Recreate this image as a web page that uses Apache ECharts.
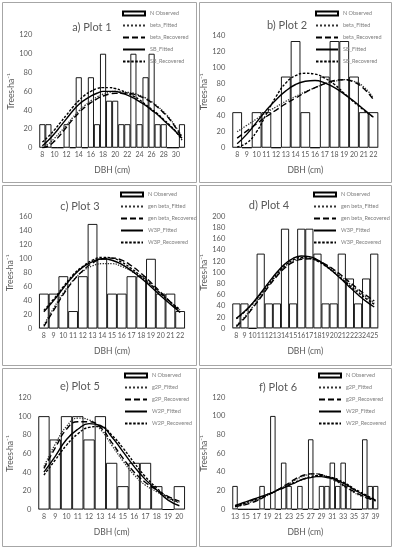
<!DOCTYPE html>
<html><head><meta charset="utf-8">
<script src="https://cdn.jsdelivr.net/npm/echarts@6/dist/echarts.min.js"></script>
<style>html,body{margin:0;padding:0;background:#fff}#c{width:393px;height:550px}</style>
</head><body><div id="c"></div>
<script>
// ---------- DATA ----------
const cats1 = ['8','9','10','11','12','13','14','15','16','17','18','19','20','21','22','23','24','25','26','27','28','29','30','31'];
const obs1 = [25,25,0,0,25,0,75,0,75,25,100,50,50,25,25,100,25,75,100,25,25,0,0,25];
const betaFit1 = [0,4,10,17,24,32,39,45,50,54,57,59,60,60,59,58,56,53,49,44,38,31,22,12];
const betaRec1 = [0,2,7,14,22,30,37,43,48,52,55,57,58,58,58,57,55,52,48,43,37,30,21,11];
const sbFit1 = [2,8,15,23,31,39,46,51,55,58,60,60,60,58,56,53,49,45,40,35,29,23,17,10];
const sbRec1 = [6,12,19,27,35,43,50,56,60,63,64,64,63,61,58,55,51,46,41,36,30,24,17,8];

const cats2 = ['8','9','10','11','12','13','14','15','16','17','18','19','20','21','22'];
const obs2 = [44.4,0,44.4,44.4,0,88.9,133.3,44.4,0,88.9,133.3,133.3,88.9,44.4,44.4];
const betaFit2 = [20,28,36,44,51,58,64,70,75,80,83,85,83,76,62];
const betaRec2 = [12,21,30,39,47,55,62,69,75,80,84,85,82,74,60];
const sbFit2 = [5,17,32,47,60,71,79,83,84,81,75,67,58,48,38];
const sbRec2 = [1,6,20,42,64,81,90,93,92,87,79,68,57,47,38];

const cats3 = ['8','9','10','11','12','13','14','15','16','17','18','19','20','21','22'];
const obs3 = [50,50,75,25,75,150,100,50,50,75,75,100,50,50,25];
const gbFit3 = [5,29,51,69,82,90,93,93,89,82,73,62,50,38,26];
const gbRec3 = [3,26,49,68,83,94,100,101,98,90,79,66,52,38,24];
const w3Fit3 = [24,40,58,75,88,96,100,98,92,83,72,60,47,35,23];
const w3Rec3 = [26,42,60,77,89,98,102,101,95,86,75,63,50,38,27];

const cats4 = ['8','9','10','11','12','13','14','15','16','17','18','19','20','21','22','23','24','25'];
const obs4 = [44.4,44.4,0,133.3,44.4,44.4,177.8,44.4,177.8,177.8,133.3,44.4,44.4,133.3,88.9,44.4,88.9,133.3];
const gbFit4 = [5,20,38,57,77,95,110,120,125,125,121,113,103,91,79,67,56,46];
const gbRec4 = [3,18,36,55,75,93,108,118,123,124,121,114,105,94,82,70,59,49];
const w3Fit4 = [18,30,45,63,82,100,115,125,129,128,122,112,100,87,73,60,48,38];
const w3Rec4 = [17,29,44,61,79,97,112,122,126,125,120,111,100,88,76,64,53,43];

const cats5 = ['8','9','10','11','12','13','14','15','16','17','18','19','20'];
const obs5 = [100,75,100,100,75,100,50,25,50,50,25,0,25];
const g2Fit5 = [46,70,89,98,96,86,69,52,37,26,19,12,7];
const g2Rec5 = [44,66,86,94,94,88,72,55,40,29,21,14,9];
const w2Fit5 = [40,57,75,86,92,90,78,62,46,32,21,10,4];
const w2Rec5 = [37,53,69,81,88,89,80,66,50,35,23,13,8];

const cats6 = ['13','14','15','16','17','18','19','20','21','22','23','24','25','26','27','28','29','30','31','32','33','34','35','36','37','38','39'];
const obs6 = [25,0,0,0,0,25,0,100,0,50,25,0,25,0,75,0,25,25,50,25,50,25,0,0,75,25,25];
const g2Fit6 = [3,4,6,8,10,12,15,18,21,24,27,31,34,36,38,38,37,35,32,29,25,22,18,15,13,11,9];
const g2Rec6 = [3,4,5,7,9,12,15,18,21,25,28,32,35,37,38,38,37,35,33,30,26,22,19,16,13,11,9];
const w2Fit6 = [4,6,8,10,12,14,16,18,21,23,26,28,31,33,34,35,35,34,33,31,28,25,21,18,15,12,10];
const w2Rec6 = [4,5,7,9,11,13,16,18,21,23,26,29,31,33,35,36,36,35,34,32,29,26,22,19,16,13,11];

const titles = ['a) Plot 1','b) Plot 2','c) Plot 3','d) Plot 4','e) Plot 5','f) Plot 6'];
const obsName = 'N Observed';
const namesAB = ['beta_Fitted','beta_Recovered','SB_Fitted','SB_Recovered'];
const namesCD = ['gen beta_Fitted','gen beta_Recovered','W3P_Fitted','W3P_Recovered'];
const namesEF = ['g2P_Fitted','g2P_Recovered','W2P_Fitted','W2P_Recovered'];
const yMaxes = [120,140,160,200,120,120];
const xName = 'DBH (cm)';
const yName = 'Trees·ha⁻¹';

// ---------- LAYOUT ----------
const FONT = 'Lato, "Liberation Sans", Arial, sans-serif';
const TXT = '#595959';
const panels = [
  {box:[2,2,194,180], grid:[39.3,35,145.7,112.7], cats:cats1, obs:obs1, lines:[betaFit1,betaRec1,sbFit1,sbRec1], names:namesAB, interval:1, yGap:23, tx:87, ty:17, lx:122, ly:10},
  {box:[199,2,192,180], grid:[232.3,35.7,146,112], cats:cats2, obs:obs2, lines:[betaFit2,betaRec2,sbFit2,sbRec2], names:namesAB, interval:0, yGap:19, tx:282, ty:15, lx:315, ly:10},
  {box:[2,185,194,180], grid:[39,217,146,111.5], cats:cats3, obs:obs3, lines:[gbFit3,gbRec3,w3Fit3,w3Rec3], names:namesCD, interval:0, yGap:22, tx:75, ty:196, lx:120, ly:191},
  {box:[199,185,192,180], grid:[232.3,216.3,146,112], cats:cats4, obs:obs4, lines:[gbFit4,gbRec4,w3Fit4,w3Rec4], names:namesCD, interval:0, yGap:19, tx:264, ty:195, lx:313, ly:191},
  {box:[2,368,194,178], grid:[38.3,397.5,146.7,112], cats:cats5, obs:obs5, lines:[g2Fit5,g2Rec5,w2Fit5,w2Rec5], names:namesEF, interval:0, yGap:21, tx:75, ty:376, lx:124, ly:372},
  {box:[199,368,192,178], grid:[232.3,397.3,146,112], cats:cats6, obs:obs6, lines:[g2Fit6,g2Rec6,w2Fit6,w2Rec6], names:namesEF, interval:1, yGap:19, tx:273, ty:377, lx:318, ly:372}
];
const lineStyles = [
  {type:'dotted', width:1.3, color:'#333'},
  {type:[6,3], width:1.4, color:'#000'},
  {type:'solid', width:1.4, color:'#000'},
  {type:[2.5,1.6], width:1.4, color:'#000'}
];

const grid=[], xAxis=[], yAxis=[], series=[], title=[], legend=[], graphic=[];
panels.forEach((p,i)=>{
  graphic.push({type:'rect', z:-10, shape:{x:p.box[0]+0.5,y:p.box[1]+0.5,width:p.box[2],height:p.box[3]}, style:{fill:'#fff', stroke:'#a6a6a6', lineWidth:1}});
  grid.push({left:p.grid[0], top:p.grid[1], width:p.grid[2], height:p.grid[3], containLabel:false});
  xAxis.push({type:'category', gridIndex:i, data:p.cats, boundaryGap:true,
    axisTick:{show:false}, axisLine:{show:true, lineStyle:{color:'#d9d9d9'}},
    axisLabel:{interval:p.interval, color:TXT, fontSize:7, fontFamily:FONT, margin:4},
    name:xName, nameLocation:'middle', nameGap:18, nameTextStyle:{color:TXT, fontSize:8.5, fontFamily:FONT}});
  yAxis.push({type:'value', gridIndex:i, min:0, max:yMaxes[i], interval:20,
    splitLine:{show:false}, axisLine:{show:false}, axisTick:{show:false},
    axisLabel:{color:TXT, fontSize:7.5, fontFamily:FONT, margin:7},
    name:yName, nameLocation:'middle', nameGap:p.yGap, nameTextStyle:{color:TXT, fontSize:8.5, fontFamily:FONT}});
  series.push({type:'bar', name:obsName, xAxisIndex:i, yAxisIndex:i, data:p.obs, barCategoryGap:'0%',
    itemStyle:{color:'#fff', borderColor:'#000', borderWidth:0.9}, silent:true, z:1});
  p.lines.forEach((d,k)=>{
    series.push({type:'line', name:p.names[k], xAxisIndex:i, yAxisIndex:i, data:d, smooth:true,
      symbol:'none', showSymbol:false, lineStyle:lineStyles[k], itemStyle:{color:lineStyles[k].color}, z:3, silent:true});
  });
  title.push({text:titles[i], left:p.tx, top:p.ty, textAlign:'center',
    textStyle:{color:TXT, fontSize:11, fontWeight:'normal', fontFamily:FONT}});
  legend.push({orient:'vertical', left:p.lx, top:p.ly, itemWidth:22, itemHeight:4, itemGap:5, padding:0,
    selectedMode:false,
    data:[{name:obsName, icon:'rect'}].concat(p.names.map(n=>({name:n, itemStyle:{opacity:0, borderWidth:0}}))),
    textStyle:{color:'#7f7f7f', fontSize:5.5, lineHeight:7, fontFamily:FONT}});
});

const chart = echarts.init(document.getElementById('c'), null, {renderer:'canvas'});
chart.setOption({backgroundColor:'#fff', animation:false, grid, xAxis, yAxis, series, title, legend, graphic});
</script>
</body></html>
